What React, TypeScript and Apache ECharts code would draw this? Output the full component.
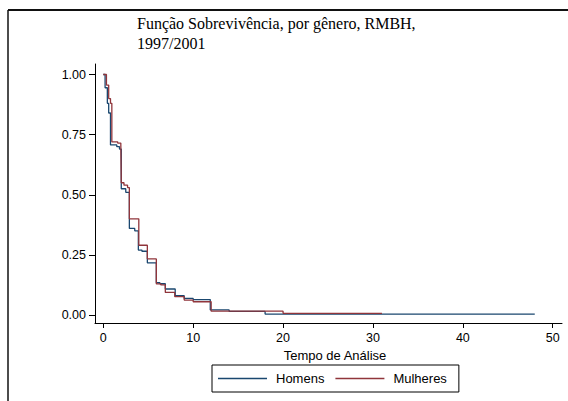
import React, { useEffect, useRef } from "react";
import * as echarts from "echarts";

const titleText = "Função Sobrevivência, por gênero, RMBH,\n1997/2001";
const xAxisTitle = "Tempo de Análise";
const seriesNames = ["Homens", "Mulheres"];

const homensTime = [0, 0.2, 0.45, 0.6, 0.8, 1.5, 1.8, 2.0, 2.5, 2.9, 3.5, 3.9, 4.3, 4.9, 5.9, 6.3, 6.9, 8.0, 9.0, 10.0, 11.9, 14.0, 18.0, 48.0];
const homensSurv = [1.0, 0.945, 0.88, 0.84, 0.707, 0.70, 0.69, 0.525, 0.51, 0.36, 0.35, 0.27, 0.265, 0.217, 0.134, 0.13, 0.108, 0.08, 0.069, 0.064, 0.021, 0.015, 0.004, 0.004];

const mulheresTime = [0, 0.35, 0.6, 0.8, 0.95, 1.6, 1.95, 2.0, 2.3, 2.7, 2.9, 3.95, 4.9, 5.9, 6.4, 6.9, 7.95, 9.0, 10.0, 12.0, 20.0, 31.0];
const mulheresSurv = [1.0, 0.956, 0.90, 0.88, 0.72, 0.715, 0.71, 0.55, 0.54, 0.53, 0.40, 0.29, 0.233, 0.129, 0.125, 0.094, 0.076, 0.062, 0.055, 0.016, 0.007, 0.007];

const xTicks = [0, 10, 20, 30, 40, 50];
const yTicks = [0, 0.25, 0.5, 0.75, 1.0];

const BLUE = "#1a476f";
const RED = "#90353b";

export default function App() {
  const ref = useRef<HTMLDivElement>(null);
  useEffect(() => {
    if (!ref.current) return;
    const chart = echarts.init(ref.current, null, { renderer: "svg" });
    const sans = "'Liberation Sans', Arial, sans-serif";
    chart.setOption({
      animation: false,
      backgroundColor: "#ffffff",
      title: {
        text: titleText,
        left: 137,
        top: 13,
        padding: 0,
        textStyle: {
          fontFamily: "'Liberation Serif', 'Times New Roman', serif",
          fontSize: 16,
          fontWeight: "normal",
          color: "#000",
          lineHeight: 20,
        },
      },
      grid: { left: 95, right: 6, top: 64, bottom: 78, containLabel: false },
      xAxis: {
        type: "value",
        min: -0.923,
        max: 51.03,
        splitLine: { show: false },
        axisLine: { show: true, onZero: false, lineStyle: { color: "#000", width: 1 } },
        axisTick: { show: true, length: 5, customValues: xTicks, lineStyle: { color: "#000" } },
        axisLabel: {
          customValues: xTicks,
          margin: 8,
          fontFamily: sans,
          fontSize: 12.5,
          color: "#000",
        },
        name: xAxisTitle,
        nameLocation: "middle",
        nameGap: 19,
        nameTextStyle: {
          fontFamily: sans,
          fontSize: 13,
          color: "#000",
          padding: [0, 0, 0, 13],
        },
      },
      yAxis: {
        type: "value",
        min: -0.0333,
        max: 1.0437,
        splitLine: { show: false },
        axisLine: { show: true, onZero: false, lineStyle: { color: "#000", width: 1 } },
        axisTick: { show: true, length: 6, customValues: yTicks, lineStyle: { color: "#000" } },
        axisLabel: {
          customValues: yTicks,
          margin: 9,
          fontFamily: sans,
          fontSize: 12.5,
          color: "#000",
          formatter: (v: number) => v.toFixed(2),
        },
      },
      legend: {
        left: 212,
        top: 365,
        orient: "horizontal",
        data: seriesNames,
        icon: "rect",
        borderColor: "#000",
        borderWidth: 1,
        padding: [7, 12, 7, 6],
        itemWidth: 49,
        itemHeight: 1.5,
        itemGap: 11,
        textStyle: { fontFamily: sans, fontSize: 13, color: "#000", padding: [0, 0, 0, 4] },
      },
      graphic: [
        { type: "line", shape: { x1: 8, y1: 10, x2: 580, y2: 10 }, style: { stroke: "#111", lineWidth: 2 } },
        { type: "line", shape: { x1: 8, y1: 10, x2: 8, y2: 420 }, style: { stroke: "#111", lineWidth: 1.5 } },
      ],
      series: [
        {
          name: seriesNames[0],
          type: "line",
          step: "end",
          symbol: "none",
          showSymbol: false,
          lineStyle: { color: BLUE, width: 1.3 },
          itemStyle: { color: BLUE },
          data: homensTime.map((t, i) => [t, homensSurv[i]]),
        },
        {
          name: seriesNames[1],
          type: "line",
          step: "end",
          symbol: "none",
          showSymbol: false,
          lineStyle: { color: RED, width: 1.3 },
          itemStyle: { color: RED },
          data: mulheresTime.map((t, i) => [t, mulheresSurv[i]]),
        },
      ],
    });
    return () => chart.dispose();
  }, []);
  return (
    <div
      ref={ref}
      style={{ position: "fixed", left: 0, top: 0, width: 568, height: 401, background: "#fff" }}
    />
  );
}
